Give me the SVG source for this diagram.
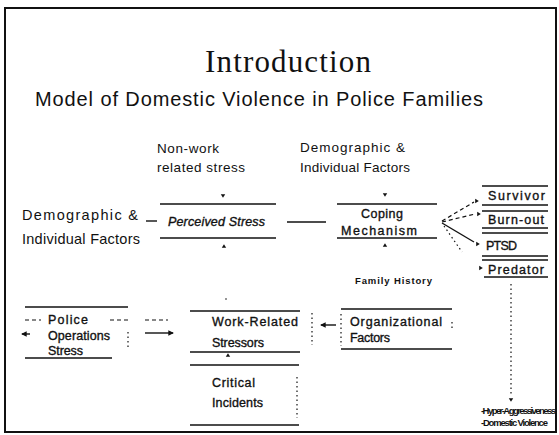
<svg xmlns="http://www.w3.org/2000/svg" width="559" height="435" viewBox="0 0 559 435">
<style>
text{font-family:"Liberation Sans","DejaVu Sans",sans-serif;fill:#111}
.title{font-family:"Liberation Serif",serif;font-size:31px}
.sub{font-size:20px}
.lbl{font-size:13.5px}
.lbl2{font-size:14.5px}
.box{font-size:12.5px;stroke:#111;stroke-width:0.35}
.tiny{font-family:"Liberation Sans Narrow","Liberation Sans",sans-serif;font-size:9.5px;font-weight:bold}
.rule{stroke:#111;stroke-width:1.6;fill:none}
.dot{stroke:#111;stroke-width:1.2;stroke-dasharray:1.5 3;fill:none}
.dash{stroke:#111;stroke-width:1.2;stroke-dasharray:4 3;fill:none}
.link{stroke:#111;stroke-width:1.4;fill:none}
.tip{fill:#111}
</style>
<defs>
  <!-- small arrowhead pointing down, rotated where needed -->
  <path id="tri" d="M-2.2,-1.8 L2.2,-1.8 L0,1.8 Z"/>
  <marker id="ah" viewBox="0 0 6 6" refX="5" refY="3" markerWidth="4" markerHeight="4" orient="auto">
    <path d="M0,0 L6,3 L0,6 Z" fill="#111"/>
  </marker>
</defs>

<rect x="0" y="0" width="559" height="435" fill="#fff"/>
<!-- slide frame -->
<rect x="5" y="8" width="551" height="424" fill="none" stroke="#111" stroke-width="2"/>

<g id="heading">
  <text class="title" x="288" y="72" text-anchor="middle" textLength="166">Introduction</text>
  <text class="sub" x="35" y="106" textLength="448">Model of Domestic Violence in Police  Families</text>
</g>

<g id="n-nonwork">
  <text class="lbl" x="157" y="153" textLength="62">Non-work</text>
  <text class="lbl" x="157" y="172" textLength="88">related stress</text>
</g>

<g id="n-demo-top">
  <text class="lbl" x="300" y="152" textLength="105">Demographic &amp;</text>
  <text class="lbl" x="300" y="172" textLength="110">Individual Factors</text>
</g>

<g id="n-demo-left">
  <text class="lbl2" x="22" y="220" textLength="116">Demographic &amp;</text>
  <text class="lbl2" x="22" y="244" textLength="118">Individual Factors</text>
</g>

<g id="n-perceived">
  <line class="rule" x1="160" y1="204" x2="276" y2="204"/>
  <line class="rule" x1="160" y1="238" x2="276" y2="238"/>
  <text class="box" x="168" y="226" textLength="97" font-style="italic">Perceived Stress</text>
</g>

<g id="n-coping">
  <line class="rule" x1="337" y1="204" x2="437" y2="204"/>
  <line class="rule" x1="337" y1="238" x2="437" y2="238"/>
  <text class="box" x="361" y="218" textLength="42">Coping</text>
  <text class="box" x="341" y="235" textLength="76">Mechanism</text>
</g>

<g id="n-survivor">
  <line class="rule" x1="482" y1="186" x2="548" y2="186"/>
  <line class="rule" x1="482" y1="205" x2="548" y2="205"/>
  <text class="box" x="488" y="200" textLength="57">Survivor</text>
</g>

<g id="n-burnout">
  <line class="rule" x1="482" y1="211" x2="548" y2="211"/>
  <line class="rule" x1="482" y1="228" x2="548" y2="228"/>
  <text class="box" x="488" y="224" textLength="56">Burn-out</text>
</g>

<g id="n-ptsd">
  <line class="rule" x1="482" y1="233" x2="548" y2="233"/>
  <line class="rule" x1="482" y1="256" x2="548" y2="256"/>
  <text class="box" x="486" y="250" textLength="31">PTSD</text>
</g>

<g id="n-predator">
  <line class="rule" x1="482" y1="260" x2="548" y2="260"/>
  <line class="rule" x1="484" y1="277" x2="548" y2="277"/>
  <text class="box" x="488" y="274" textLength="56">Predator</text>
</g>

<g id="n-family">
  <text class="tiny" x="355" y="284" textLength="77">Family History</text>
</g>

<g id="n-org">
  <line class="rule" x1="341" y1="309" x2="452" y2="309"/>
  <line class="rule" x1="341" y1="349" x2="452" y2="349"/>
  <line class="dot" x1="341" y1="314" x2="341" y2="346"/>
  <line class="dot" x1="452" y1="322" x2="452" y2="330"/>
  <text class="box" x="350" y="326" textLength="92">Organizational</text>
  <text class="box" x="350" y="342" textLength="40">Factors</text>
</g>

<g id="n-work">
  <line class="rule" x1="190" y1="311" x2="300" y2="311"/>
  <line class="rule" x1="190" y1="352" x2="300" y2="352"/>
  <line class="dot" x1="312" y1="313" x2="312" y2="345"/>
  <text class="box" x="212" y="326" textLength="86">Work-Related</text>
  <text class="box" x="212" y="347" textLength="52">Stressors</text>
</g>

<g id="n-critical">
  <line class="rule" x1="190" y1="365" x2="299" y2="365"/>
  <line class="rule" x1="190" y1="425" x2="299" y2="425"/>
  <line class="dot" x1="297" y1="377" x2="297" y2="418"/>
  <text class="box" x="212" y="387" textLength="43">Critical</text>
  <text class="box" x="212" y="407" textLength="51">Incidents</text>
</g>

<g id="n-police">
  <line class="rule" x1="25" y1="307" x2="128" y2="307"/>
  <line class="rule" x1="25" y1="358" x2="112" y2="358"/>
  <line class="dot" x1="128" y1="332" x2="128" y2="347"/>
  <text class="box" x="48" y="324" textLength="40">Police</text>
  <text class="box" x="48" y="340" textLength="62">Operations</text>
  <text class="box" x="48" y="355" textLength="35">Stress</text>
</g>

<g id="n-outcomes">
  <text class="tiny" x="481" y="414" textLength="75">-Hyper-Aggressiveness</text>
  <text class="tiny" x="481" y="426" textLength="67">-Domestic Violence</text>
</g>

<g id="connectors">
  <!-- inputs into Perceived Stress and Coping Mechanism -->
  <line class="link" x1="146" y1="221" x2="157" y2="221" stroke-width="1.8"/>
  <line class="link" x1="287" y1="222" x2="326" y2="222" stroke-width="1.8"/>
  <use href="#tri" class="tip" transform="translate(223,196)"/>
  <use href="#tri" class="tip" transform="translate(385,195)"/>
  <use href="#tri" class="tip" transform="translate(224,246) rotate(180)"/>
  <use href="#tri" class="tip" transform="translate(385,245) rotate(180)"/>
  <circle class="tip" cx="226" cy="299" r="0.8"/>

  <!-- fan from Coping Mechanism to the outcome boxes -->
  <line class="dash" x1="442" y1="221" x2="474" y2="202"/>
  <line class="dash" x1="442" y1="222" x2="475" y2="214"/>
  <line class="link" x1="442" y1="223" x2="474" y2="242"/>
  <line class="dot" x1="444" y1="226" x2="462" y2="252"/>
  <use href="#tri" class="tip" transform="translate(477,201) rotate(-90)"/>
  <use href="#tri" class="tip" transform="translate(479,214) rotate(-90)"/>
  <use href="#tri" class="tip" transform="translate(478,244) rotate(-90)"/>
  <use href="#tri" class="tip" transform="translate(481,268) rotate(-90)"/>

  <!-- Predator to outcomes -->
  <line class="dot" x1="511" y1="284" x2="511" y2="395"/>
  <use href="#tri" class="tip" transform="translate(511,400)"/>

  <!-- Organizational Factors to Work-Related Stressors -->
  <line class="link" x1="336" y1="325" x2="321" y2="325" marker-end="url(#ah)"/>

  <!-- Police Operations Stress to Work-Related Stressors -->
  <line class="dash" x1="145" y1="320" x2="168" y2="320"/>
  <line class="link" x1="145" y1="333" x2="173" y2="333" marker-end="url(#ah)"/>
  <line class="dash" x1="25" y1="320" x2="41" y2="320"/>
  <line class="link" x1="30" y1="334" x2="22" y2="334" marker-end="url(#ah)"/>
  <line class="dash" x1="110" y1="320" x2="128" y2="320"/>

  <!-- Critical Incidents to Work-Related Stressors -->
  <use href="#tri" class="tip" transform="translate(228,355) rotate(180)"/>
</g>
</svg>
